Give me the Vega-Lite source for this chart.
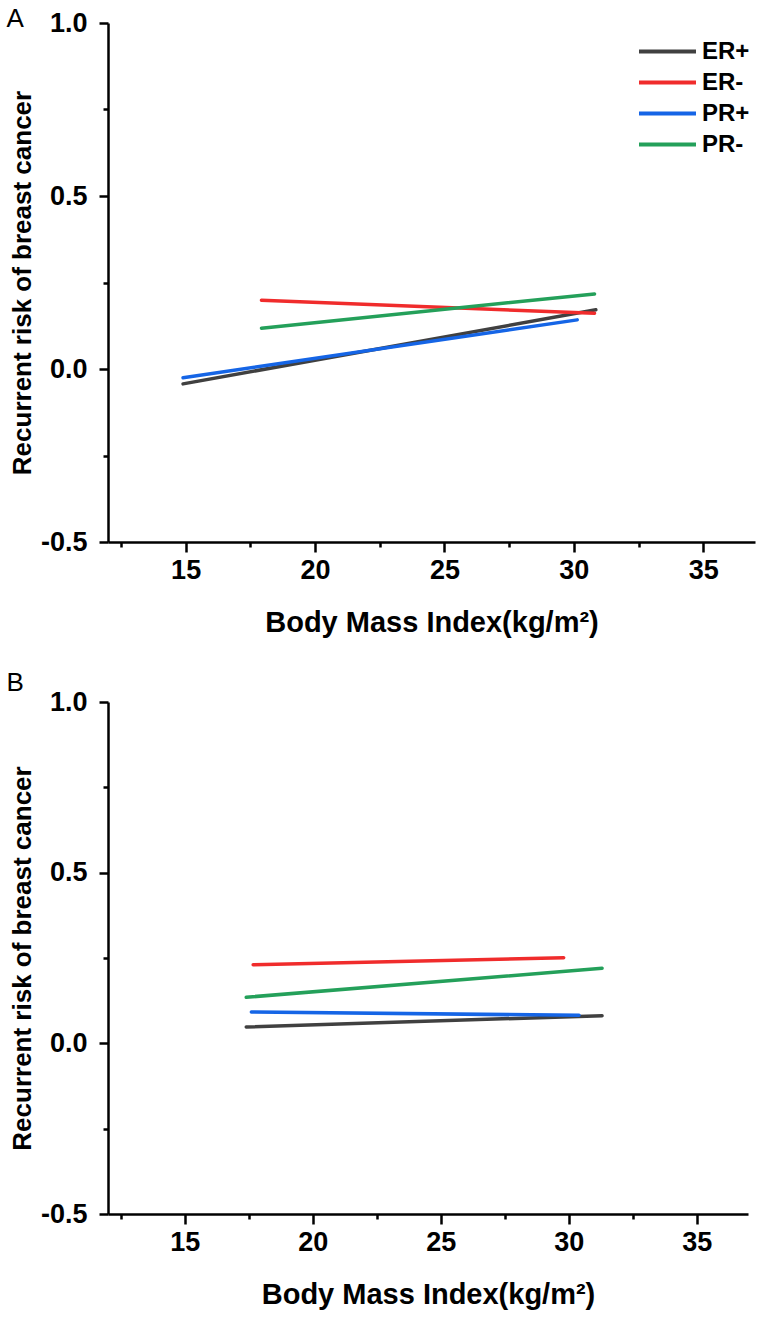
{
  "$schema": "https://vega.github.io/schema/vega-lite/v6.json",
  "padding": {"top": 6, "left": 6, "right": 5, "bottom": 5},
  "spacing": 33,
  "config": {
    "view": {"stroke": null},
    "font": "Liberation Sans",
    "axis": {
      "grid": false,
      "domainColor": "#000000",
      "domainWidth": 2.5,
      "tickColor": "#000000",
      "tickWidth": 2.5,
      "labelFont": "Liberation Sans",
      "labelFontSize": 27,
      "labelFontWeight": "bold",
      "labelColor": "#000000",
      "titleFont": "Liberation Sans",
      "titleFontWeight": "bold",
      "titleColor": "#000000"
    },
    "title": {"font": "Liberation Sans", "fontSize": 26, "fontWeight": "normal", "color": "#000000", "anchor": "start", "frame": "bounds"}
  },
  "datasets": {
    "A": [
      {"group": "ER+", "bmi": 14.9, "risk": -0.043},
      {"group": "ER+", "bmi": 30.85, "risk": 0.171},
      {"group": "ER-", "bmi": 17.93, "risk": 0.199},
      {"group": "ER-", "bmi": 30.8, "risk": 0.161},
      {"group": "PR+", "bmi": 14.9, "risk": -0.025},
      {"group": "PR+", "bmi": 30.13, "risk": 0.142},
      {"group": "PR-", "bmi": 17.93, "risk": 0.118},
      {"group": "PR-", "bmi": 30.8, "risk": 0.217}
    ],
    "B": [
      {"group": "ER+", "bmi": 17.4, "risk": 0.048},
      {"group": "ER+", "bmi": 31.3, "risk": 0.081},
      {"group": "ER-", "bmi": 17.67, "risk": 0.230},
      {"group": "ER-", "bmi": 29.8, "risk": 0.251},
      {"group": "PR+", "bmi": 17.6, "risk": 0.092},
      {"group": "PR+", "bmi": 30.4, "risk": 0.082},
      {"group": "PR-", "bmi": 17.4, "risk": 0.135},
      {"group": "PR-", "bmi": 31.3, "risk": 0.220}
    ]
  },
  "vconcat": [
    {
      "title": {"text": "A", "offset": -23, "dx": -3, "fontSize": 26},
      "data": {"name": "A"},
      "width": 647,
      "height": 519,
      "mark": {"type": "line", "strokeWidth": 3.5, "strokeCap": "round"},
      "encoding": {
        "x": {
          "field": "bmi", "type": "quantitative",
          "scale": {"domain": [12, 37], "nice": false, "zero": false},
          "axis": {
            "title": "Body Mass Index(kg/m²)", "titleFontSize": 29, "titlePadding": 25,
            "values": [12.5, 15, 17.5, 20, 22.5, 25, 27.5, 30, 32.5, 35],
            "labelExpr": "datum.value % 5 == 0 ? format(datum.value, 'd') : ''",
            "tickSize": {"condition": {"test": "datum.value % 5 == 0", "value": 10}, "value": 5},
            "labelPadding": 5
          }
        },
        "y": {
          "field": "risk", "type": "quantitative",
          "scale": {"domain": [-0.5, 1.0], "nice": false, "zero": false},
          "axis": {
            "title": "Recurrent risk of breast cancer", "titleFontSize": 26, "titlePadding": 5,
            "values": [-0.5, -0.25, 0, 0.25, 0.5, 0.75, 1.0],
            "labelExpr": "datum.value == 1 ? '1.0' : datum.value == 0.5 ? '0.5' : datum.value == 0 ? '0.0' : datum.value == -0.5 ? '-0.5' : ''",
            "tickSize": {"condition": {"test": "datum.value == 0.75 || datum.value == 0.25 || datum.value == -0.25", "value": 5}, "value": 9},
            "labelPadding": 12
          }
        },
        "color": {
          "field": "group", "type": "nominal",
          "scale": {"domain": ["ER+", "ER-", "PR+", "PR-"], "range": ["#404040", "#f02c2c", "#1565e6", "#24a05a"]},
          "legend": {
            "title": null, "orient": "none", "legendX": 543, "legendY": 12,
            "symbolType": "M-2,0L2,0", "symbolSize": 812, "symbolStrokeWidth": 4,
            "labelFontSize": 24, "labelFontWeight": "bold", "labelColor": "#000000", "labelFont": "Liberation Sans",
            "labelOffset": 18, "rowPadding": 2
          }
        }
      }
    },
    {
      "title": {"text": "B", "offset": -8, "dx": -3, "fontSize": 26},
      "data": {"name": "B"},
      "width": 640,
      "height": 512,
      "mark": {"type": "line", "strokeWidth": 3.5, "strokeCap": "round"},
      "encoding": {
        "x": {
          "field": "bmi", "type": "quantitative",
          "scale": {"domain": [12, 37], "nice": false, "zero": false},
          "axis": {
            "title": "Body Mass Index(kg/m²)", "titleFontSize": 29, "titlePadding": 25,
            "values": [12.5, 15, 17.5, 20, 22.5, 25, 27.5, 30, 32.5, 35],
            "labelExpr": "datum.value % 5 == 0 ? format(datum.value, 'd') : ''",
            "tickSize": {"condition": {"test": "datum.value % 5 == 0", "value": 10}, "value": 5},
            "labelPadding": 5
          }
        },
        "y": {
          "field": "risk", "type": "quantitative",
          "scale": {"domain": [-0.5, 1.0], "nice": false, "zero": false},
          "axis": {
            "title": "Recurrent risk of breast cancer", "titleFontSize": 26, "titlePadding": 5,
            "values": [-0.5, -0.25, 0, 0.25, 0.5, 0.75, 1.0],
            "labelExpr": "datum.value == 1 ? '1.0' : datum.value == 0.5 ? '0.5' : datum.value == 0 ? '0.0' : datum.value == -0.5 ? '-0.5' : ''",
            "tickSize": {"condition": {"test": "datum.value == 0.75 || datum.value == 0.25 || datum.value == -0.25", "value": 5}, "value": 9},
            "labelPadding": 12
          }
        },
        "color": {
          "field": "group", "type": "nominal",
          "scale": {"domain": ["ER+", "ER-", "PR+", "PR-"], "range": ["#404040", "#f02c2c", "#1565e6", "#24a05a"]},
          "legend": null
        }
      }
    }
  ]
}
